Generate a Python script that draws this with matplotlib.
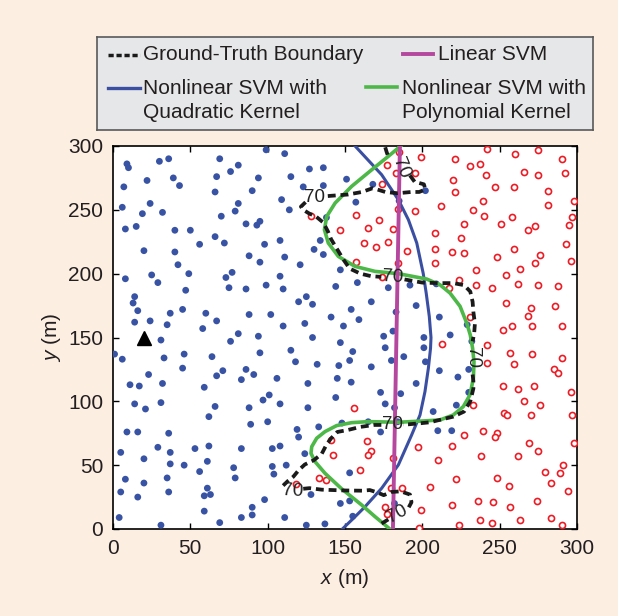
import numpy as np
import matplotlib
matplotlib.use('Agg')
import matplotlib.pyplot as plt

# fonts (Helvetica-like)
plt.rcParams['font.family'] = ['Liberation Sans', 'DejaVu Sans']
plt.rcParams['mathtext.fontset'] = 'custom'
plt.rcParams['mathtext.it'] = 'Liberation Sans:italic'
plt.rcParams['mathtext.rm'] = 'Liberation Sans'

# ---------------------------------------------------------------- data (m)
# class A samples (filled blue dots)
blue_pts = [
    (9, 286), (10, 283), (30, 288), (36, 290), (69, 290), (99, 297), (81, 285), (76, 280),
    (22, 273), (39, 275), (43, 269), (67, 276), (94, 275), (7, 268), (66, 264), (90, 265),
    (24, 255), (6, 252), (19, 247), (32, 248), (81, 255), (79, 249), (70, 245), (86, 239),
    (93, 238), (95, 241), (8, 235), (15, 237), (40, 234), (50, 234), (66, 229), (56, 223),
    (72, 224), (98, 223), (20, 218), (40, 217), (88, 214), (42, 207), (95, 209), (49, 200),
    (77, 201), (73, 197), (8, 196), (25, 199), (29, 193), (47, 187), (75, 189), (86, 188),
    (99, 191), (14, 182), (13, 177), (16, 171), (37, 169), (45, 172), (60, 169), (88, 168),
    (102, 168), (14, 162), (24, 163), (35, 160), (67, 163), (58, 157), (81, 153), (94, 151),
    (31, 148), (76, 147), (1, 137), (6, 133), (33, 134), (46, 137), (64, 135), (95, 138),
    (45, 126), (71, 124), (86, 125), (67, 120), (91, 121), (23, 121), (83, 117), (11, 113),
    (17, 112), (32, 114), (59, 111), (97, 101), (101, 105), (14, 98), (21, 94), (31, 99),
    (66, 96), (62, 88), (88, 95), (89, 82), (100, 84), (9, 76), (16, 76), (36, 75),
    (5, 60), (29, 64), (37, 60), (53, 63), (62, 65), (83, 63), (20, 55), (37, 51),
    (46, 50), (61, 53), (56, 45), (78, 48), (79, 40), (8, 39), (20, 36), (35, 40),
    (5, 29), (16, 25), (36, 29), (61, 32), (59, 26), (63, 27), (98, 23), (90, 17),
    (90, 11), (4, 9), (59, 14), (83, 9), (31, 3), (69, 5),
    (111, 294), (127, 282), (136, 283), (115, 276), (123, 268), (136, 269), (151, 274),
    (168, 270), (109, 258), (114, 250), (157, 256), (185, 257), (138, 244), (108, 226),
    (134, 226), (130, 219), (136, 215), (111, 213), (121, 207), (147, 203), (108, 198),
    (110, 188), (144, 190), (158, 193), (178, 189), (192, 191), (125, 182), (120, 178),
    (129, 176), (167, 178), (196, 175), (154, 172), (141, 166), (159, 164), (183, 170),
    (110, 159), (124, 161), (149, 159), (181, 155), (129, 150), (175, 151),
    (202, 265), (209, 192), (211, 166), (229, 160), (218, 152), (201, 150),
    (147, 146), (115, 140), (155, 139), (176, 142), (201, 142), (118, 131), (132, 129),
    (146, 128), (153, 132), (167, 127), (180, 132), (188, 135), (106, 118), (126, 114),
    (145, 118), (154, 115), (196, 114), (108, 98), (126, 95), (144, 103), (173, 107),
    (186, 106), (176, 98), (182, 95), (119, 78), (133, 80), (148, 83), (165, 84),
    (184, 84), (120, 72), (173, 76), (103, 63), (108, 65), (124, 59), (103, 49),
    (104, 43), (112, 50), (153, 44), (128, 27), (153, 22), (147, 20), (182, 20),
    (155, 10), (111, 9), (125, 3), (137, 4),
    (202, 131), (211, 124), (223, 119), (230, 125), (232, 147), (230, 107), (222, 97),
    (207, 92), (210, 77), (219, 77),
]
# class B samples (open red circles)
red_pts = [
    (185, 295), (199, 291), (177, 285), (183, 279), (195, 279), (174, 270), (184, 251),
    (195, 249), (128, 245), (157, 246), (172, 242), (165, 236), (147, 234), (181, 235),
    (162, 224), (178, 225), (170, 221), (190, 218), (157, 209), (184, 208), (174, 197),
    (242, 298), (221, 290), (260, 294), (275, 297), (290, 290), (231, 284), (237, 286),
    (266, 280), (275, 277), (292, 279), (241, 277), (220, 273), (247, 268), (259, 268),
    (221, 264), (281, 265), (239, 257), (281, 254), (298, 257), (212, 253), (233, 250),
    (240, 245), (258, 244), (297, 244), (227, 239), (251, 239), (273, 237), (268, 234),
    (295, 238), (208, 232), (225, 228), (208, 219), (219, 217), (227, 216), (259, 219),
    (276, 215), (293, 223), (248, 213), (208, 208), (273, 208), (296, 210), (263, 204),
    (235, 203), (254, 199), (224, 195), (217, 189), (235, 191), (245, 189), (262, 192),
    (275, 191), (288, 190), (254, 177), (270, 173), (286, 175), (268, 167), (231, 166),
    (252, 156), (258, 159), (271, 159), (290, 159),
    (156, 95), (141, 70), (164, 69), (142, 58), (167, 61), (165, 58), (181, 56),
    (160, 46), (133, 40), (138, 38), (118, 35), (180, 32), (187, 32), (176, 17),
    (177, 12), (199, 15), (198, 1), (197, 64),
    (213, 145), (242, 144), (257, 138), (271, 137), (290, 134), (242, 130), (259, 129),
    (285, 125), (288, 122), (252, 112), (262, 110), (272, 112), (296, 107), (266, 100),
    (276, 97), (233, 97), (253, 91), (255, 89), (270, 89), (297, 89), (227, 74),
    (239, 77), (248, 75), (247, 72), (269, 67), (298, 67), (219, 65), (275, 61),
    (210, 54), (238, 57), (262, 57), (291, 50), (279, 45), (289, 44), (222, 39),
    (248, 40), (283, 36), (205, 33), (256, 34), (294, 30), (236, 22), (246, 21),
    (274, 22), (219, 19), (257, 17), (237, 7), (245, 5), (263, 7), (283, 9),
    (290, 3), (224, 3),
]
blue_x, blue_y = np.array(blue_pts).T
red_x, red_y = np.array(red_pts).T

# transmitter position
tx_x, tx_y = 20, 150

# decision boundaries
linear_x = [181, 185.5]
linear_y = [0, 300]

quad_x = [148.3, 156, 163, 173.7, 184.5, 193.1, 198.5, 201.7, 203.9, 205.3, 205.6,
          204.5, 202.5, 200.6, 196.4, 191, 184.5, 173.7, 156.5]
quad_y = [0, 9, 17.5, 31.9, 50.2, 73.7, 89.3, 107.6, 125.9, 141.6, 150,
          166.5, 184.8, 200, 224, 242.2, 257.9, 277.5, 300]

poly_x = [179, 169.4, 160.8, 147.9, 137.1, 130.6, 128, 128.5, 131.7, 137.1, 144.6, 154.3,
          165, 184.5, 201.7, 211.4, 220, 226.5, 230.8, 233, 233.4, 232.5, 231, 228.7,
          224.4, 217.9, 211.4, 202.8, 184.5, 169.4, 156.5, 145.7, 139.2, 136.7, 138.2,
          143.6, 154.3, 167.3, 178, 186]
poly_y = [0, 9.7, 18.8, 31.4, 43.6, 52.8, 59.3, 64.5, 71.1, 76.3, 81, 83.3,
          84.1, 83.6, 84.7, 85.4, 89.3, 95.9, 105, 118, 131, 141.6, 152, 161.3,
          174.4, 184.8, 191.3, 195.8, 200, 201.8, 205.7, 213.5, 224, 234.4, 244.9,
          255.3, 268.4, 281.4, 291.9, 300]

# ground-truth 70 contour (nan = gap for the inline label)
gt_x = [176, 177, 178.5, np.nan,
        192, 195, 201, 202, 198, 193, 184, 176, 168, 161, 152, 141, 136, np.nan,
        124.5, 121.5, 123, 127, 131, 136, 139, 141, 145, 149, 153, 160, 167, 173.5, np.nan,
        188.5, 193, 200, 210, 220, 227, 231, 232.5, 233, 234, 233.5, 232.5, np.nan,
        232.5, 233, 233, 231, 227, 220, 211, 205, 198.5, 191, 187.5, np.nan,
        173.5, 169, 160, 152, 145, 141, 138, 135, 130, 124, 120, 116.6, 113, 110, np.nan,
        123, 127, 135, 149, 161, 166, 171, 175, 180, 186, 192, 193, 191, 189.5, np.nan,
        178, 174, 172]
gt_y = [299, 295, 290, np.nan,
        277, 272, 270, 266, 264, 264, 263, 264, 267, 264, 262, 261, 260.5, np.nan,
        256, 252.5, 250, 247, 245, 240, 233, 227, 219, 211, 204, 200, 198, 197.5, np.nan,
        195.5, 194.5, 193, 192.6, 192.6, 191, 186, 178, 170, 161, 153, 147, np.nan,
        121, 116, 110, 100, 92, 88, 85.4, 83.6, 82.8, 82, 82, np.nan,
        81.5, 81.5, 80, 77.6, 76, 71, 66, 59, 54, 50.5, 46, 41, 37.5, 34, np.nan,
        31.5, 32, 30.8, 30.2, 30, 30.5, 28.6, 26.5, 29, 29.5, 27, 21, 16.5, 15, np.nan,
        7.5, 4.5, 3]
# contour label positions / angles
lab_x = [186, 130.5, 181, 232.5, 180.5, 116, 184]
lab_y = [283, 259.5, 197, 134, 82, 30, 11.5]
lab_rot = [-68, 0, -3, -90, 0, -3, 28]

xticks = [0, 50, 100, 150, 200, 250, 300]
yticks = [0, 50, 100, 150, 200, 250, 300]

# ---------------------------------------------------------------- colours
bg = '#FDEEE2'
c_blue = '#3853A4'
c_red = '#EC1C24'
c_mag = '#B5479F'
c_green = '#4DB848'
c_quad = '#3A4FA2'

fig = plt.figure(figsize=(6.18, 6.16), dpi=100, facecolor=bg)
ax = fig.add_axes([113 / 618, 1 - 529 / 616, 464 / 618, 383 / 616])
ax.set_facecolor('white')

ax.scatter(blue_x, blue_y, s=24, color=c_blue, edgecolors='none', zorder=3)
ax.scatter(red_x, red_y, s=19, facecolors='white', edgecolors=c_red, linewidths=1.2, zorder=3)
ax.plot(tx_x, tx_y, marker='^', color='black', markersize=10, zorder=4)

ax.plot(gt_x, gt_y, color='#1a1a1a', lw=2.7, dashes=(2.1, 1.3), zorder=5)
for lx, ly, lr in zip(lab_x, lab_y, lab_rot):
    ax.text(lx, ly, '70', fontsize=13.5, color='#222222', rotation=lr,
            ha='center', va='center', rotation_mode='anchor', zorder=6)

ax.plot(quad_x, quad_y, color=c_quad, lw=2.2, zorder=4)
ax.plot(poly_x, poly_y, color=c_green, lw=2.6, zorder=4)
ax.plot(linear_x, linear_y, color=c_mag, lw=2.8, zorder=4)

ax.set_xlim(0, 300)
ax.set_ylim(0, 300)
ax.set_xticks(xticks)
ax.set_yticks(yticks)
ax.tick_params(direction='in', length=4, width=1, top=True, right=True,
               labelsize=15, pad=7, colors='black', labelcolor='#231F20')
for sp in ax.spines.values():
    sp.set_linewidth(1.2)

ax.set_xlabel('$x$ (m)', fontsize=15, color='#231F20')
ax.set_ylabel('$y$ (m)', fontsize=15, color='#231F20')
ax.xaxis.set_label_coords(0.5, -0.099)
ax.yaxis.set_label_coords(-0.108, 0.5)

# ---------------------------------------------------------------- legend box
lg = fig.add_axes([97 / 618, 1 - 130 / 616, 496 / 618, 93 / 616])
lg.set_facecolor('#E6E7E8')
lg.set_xlim(97, 593)
lg.set_ylim(130, 37)
lg.set_xticks([])
lg.set_yticks([])
for sp in lg.spines.values():
    sp.set_color('#58595B')
    sp.set_linewidth(1.2)

lg.plot([108, 140], [55, 55], color='#1a1a1a', lw=2.5, dashes=(1.5, 0.8))
lg.text(143, 55, 'Ground-Truth Boundary', fontsize=15, va='center', color='#231F20')
lg.plot([403, 433], [54, 54], color=c_mag, lw=2.8)
lg.text(438, 54, 'Linear SVM', fontsize=15, va='center', color='#231F20')
lg.plot([108, 140], [88, 88], color=c_quad, lw=2.4)
lg.text(143, 88, 'Nonlinear SVM with', fontsize=15, va='center', color='#231F20')
lg.text(143, 112, 'Quadratic Kernel', fontsize=15, va='center', color='#231F20')
lg.plot([366, 397], [87, 87], color=c_green, lw=2.6)
lg.text(402, 88, 'Nonlinear SVM with', fontsize=15, va='center', color='#231F20')
lg.text(402, 112, 'Polynomial Kernel', fontsize=15, va='center', color='#231F20')

fig.savefig('out.png', dpi=100, facecolor=bg)
